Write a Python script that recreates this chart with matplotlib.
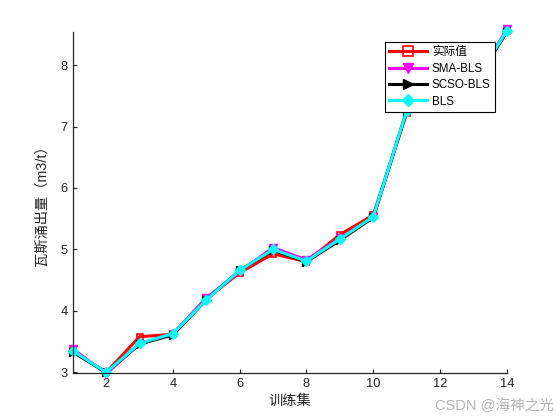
import matplotlib
matplotlib.use('Agg')
import matplotlib.pyplot as plt
import numpy as np

plt.rcParams['font.family'] = ['Liberation Sans', 'Noto Sans CJK SC', 'DejaVu Sans']

# 训练集样本序号
x = np.arange(1, 15)
shiji = [3.35, 3.00, 3.58, 3.62, 4.20, 4.62, 4.93, 4.80, 5.24, 5.56, 7.22, 7.45, 7.68, 8.55]
sma_bls = [3.38, 2.98, 3.46, 3.63, 4.21, 4.64, 5.03, 4.83, 5.18, 5.52, 7.26, 7.47, 7.70, 8.58]
scso_bls = [3.33, 3.00, 3.46, 3.61, 4.18, 4.66, 4.99, 4.80, 5.15, 5.52, 7.24, 7.45, 7.67, 8.54]
bls = [3.35, 3.00, 3.47, 3.63, 4.18, 4.66, 5.00, 4.81, 5.17, 5.53, 7.25, 7.46, 7.68, 8.56]

xticks = [2, 4, 6, 8, 10, 12, 14]
yticks = [3, 4, 5, 6, 7, 8]

grey = '#262626'

fig = plt.figure(figsize=(5.6, 4.2), dpi=100)
ax = fig.add_axes([0.13, 0.112, 0.775, 0.812])

ax.plot(x, shiji, color='red', lw=2.2, marker='s', ms=5, mfc='none', mew=1.2, label='实际值', clip_on=False)
ax.plot(x, sma_bls, color='magenta', lw=2.2, marker='v', ms=6, label='SMA-BLS', clip_on=False)
ax.plot(x, scso_bls, color='black', lw=2.2, marker='>', ms=6, label='SCSO-BLS', clip_on=False)
ax.plot(x, bls, color='cyan', lw=2.2, marker='D', ms=5, label='BLS', clip_on=False)

ax.set_xlim(1, 14)
ax.set_ylim(2.99, 8.54)
ax.set_xticks(xticks)
ax.set_yticks(yticks)
ax.tick_params(direction='in', length=3, colors=grey, labelsize=9.3, width=0.8)
for s in ['top', 'right']:
    ax.spines[s].set_visible(False)
for s in ['left', 'bottom']:
    ax.spines[s].set_color(grey)
    ax.spines[s].set_linewidth(0.9)

ax.set_xlabel('训练集', fontsize=10.3, color=grey, labelpad=3)
ax.set_ylabel('瓦斯涌出量（m3/t）', fontsize=10.3, color=grey, labelpad=9)

leg = ax.legend(loc='upper right', bbox_to_anchor=(0.972, 0.97), fontsize=8.4,
                handlelength=3.3, labelspacing=0.38, borderpad=0.35,
                handletextpad=0.4, borderaxespad=0, fancybox=False,
                framealpha=1, edgecolor='black', markerscale=1.3)
leg.get_frame().set_linewidth(0.8)
leg.set_zorder(5)

fig.text(0.99, 0.035, 'CSDN @海神之光', ha='right', va='center', fontsize=10.5,
         color='#b4b4b4')

fig.savefig('out.png', dpi=100)
